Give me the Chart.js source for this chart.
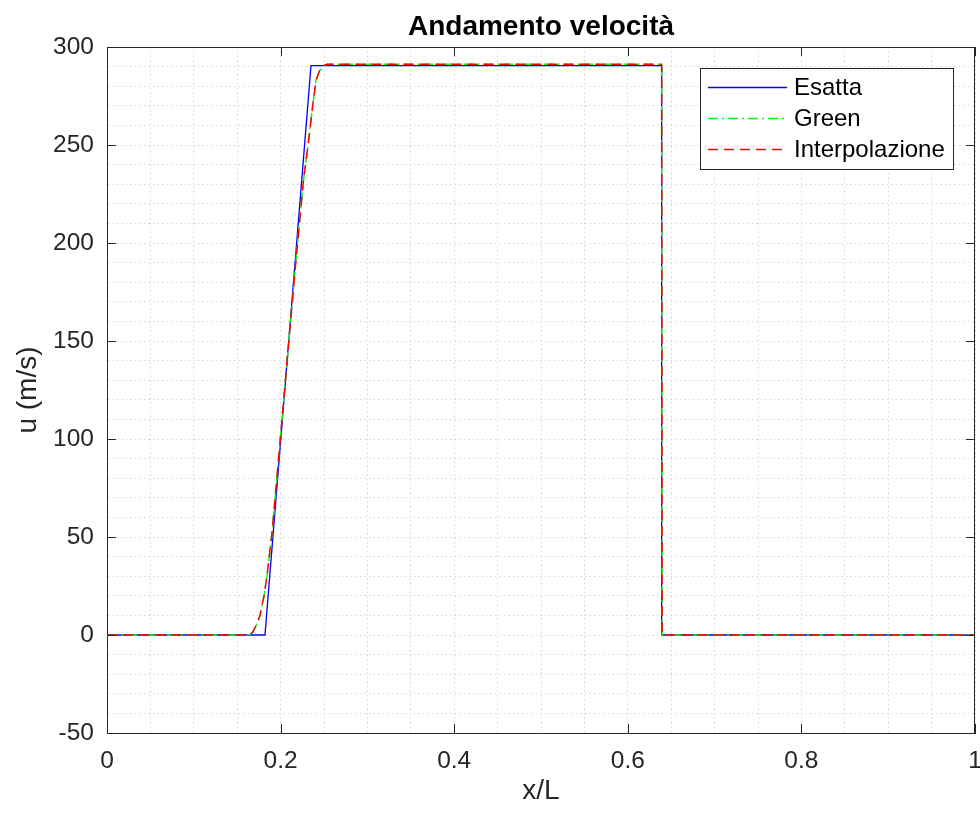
<!DOCTYPE html>
<html>
<head>
<meta charset="utf-8">
<title>Andamento velocità</title>
<script src="https://cdn.jsdelivr.net/npm/chart.js@4.4.0/dist/chart.umd.min.js"></script>
<style>
  html, body { margin: 0; padding: 0; background: #fff; }
  #wrap { width: 980px; height: 819px; }
</style>
</head>
<body>
<div id="wrap"><canvas id="chart" width="980" height="819"></canvas></div>
<script>
// values
const esattaX = [0, 0.182, 0.235, 0.639, 0.639, 1];
const esattaU = [0, 0, 290.5, 290.5, 0, 0];

const greenX = [0, 0.160, 0.165, 0.168, 0.172, 0.1763, 0.1809, 0.1843, 0.1901, 0.1935, 0.2095, 0.2175, 0.2261, 0.2316, 0.237, 0.2408, 0.245, 0.2495, 0.2535, 0.639, 0.6395, 1];
const greenU = [0, 0, 0.3, 1.5, 5, 10, 20, 30, 52, 69, 150, 190, 231, 250, 270, 283, 288, 290.5, 291.2, 291.2, 0, 0];

const interpX = [0, 0.160, 0.165, 0.168, 0.172, 0.1763, 0.1809, 0.1843, 0.1901, 0.1935, 0.2095, 0.2175, 0.2261, 0.2316, 0.237, 0.2408, 0.245, 0.2495, 0.2535, 0.639, 0.6395, 1];
const interpU = [0, 0, 0.3, 1.5, 5, 10, 20, 30, 52, 69, 150, 190, 231, 250, 270, 283, 288, 290.5, 291.2, 291.2, 0, 0];

const xTickLabels = ['0', '0.2', '0.4', '0.6', '0.8', '1'];
const xMajor = [0, 0.2, 0.4, 0.6, 0.8, 1];
const yTickLabels = ['-50', '0', '50', '100', '150', '200', '250', '300'];
const yMajor = [-50, 0, 50, 100, 150, 200, 250, 300];

const FONT = "'Liberation Sans', Arial, Helvetica, sans-serif";
const AXIS = '#262626';
const GRID = '#d6d6d6';

const pts = (xs, ys) => xs.map((x, i) => ({x: x, y: ys[i]}));

// MATLAB-like box, inward ticks and legend inside the axes
const matlabAxes = {
  id: 'matlabAxes',
  afterDraw(chart) {
    const {ctx, chartArea: a, scales} = chart;
    const xs = scales.x, ys = scales.y;
    const tl = 9;
    ctx.save();
    ctx.strokeStyle = AXIS;
    ctx.lineWidth = 1;
    ctx.beginPath();
    ctx.moveTo(a.left, a.top + 0.5); ctx.lineTo(a.right, a.top + 0.5);
    ctx.moveTo(a.right - 0.5, a.top); ctx.lineTo(a.right - 0.5, a.bottom);
    xMajor.forEach(v => {
      const px = Math.round(xs.getPixelForValue(v)) + 0.5;
      ctx.moveTo(px, a.bottom); ctx.lineTo(px, a.bottom - tl);
      ctx.moveTo(px, a.top); ctx.lineTo(px, a.top + tl);
    });
    yMajor.forEach(v => {
      const py = Math.round(ys.getPixelForValue(v)) + 0.5;
      ctx.moveTo(a.left, py); ctx.lineTo(a.left + tl, py);
      ctx.moveTo(a.right, py); ctx.lineTo(a.right - tl, py);
    });
    ctx.stroke();

    // legend
    const bx = 700.5, by = 68.5, bw = 253, bh = 101;
    ctx.fillStyle = '#fff';
    ctx.fillRect(bx, by, bw, bh);
    ctx.strokeStyle = AXIS;
    ctx.strokeRect(bx, by, bw, bh);
    ctx.font = '24px ' + FONT;
    ctx.textBaseline = 'middle';
    ctx.textAlign = 'left';
    chart.data.datasets.forEach((ds, i) => {
      const cy = 87.5 + i * 31;
      ctx.save();
      ctx.strokeStyle = ds.borderColor;
      ctx.lineWidth = ds.borderWidth;
      ctx.setLineDash(ds.borderDash || []);
      ctx.beginPath();
      ctx.moveTo(708, cy); ctx.lineTo(787, cy);
      ctx.stroke();
      ctx.restore();
      ctx.fillStyle = '#000';
      ctx.fillText(ds.label, 794, cy + 1);
    });
    ctx.restore();
  }
};

new Chart(document.getElementById('chart').getContext('2d'), {
  type: 'line',
  data: {
    datasets: [
      {
        label: 'Esatta',
        data: pts(esattaX, esattaU),
        borderColor: '#0000ff',
        borderWidth: 1.3,
        order: 2
      },
      {
        label: 'Green',
        data: pts(greenX, greenU),
        borderColor: '#00ff00',
        borderWidth: 1.5,
        borderDash: [10, 4, 2, 4],
        order: 1
      },
      {
        label: 'Interpolazione',
        data: pts(interpX, interpU),
        borderColor: '#ff0000',
        borderWidth: 1.5,
        borderDash: [10, 6],
        order: 0
      }
    ]
  },
  options: {
    responsive: false,
    animation: false,
    elements: { point: { radius: 0 }, line: { tension: 0 } },
    layout: { padding: { left: 0, right: 5, top: 0, bottom: 0 } },
    plugins: {
      legend: { display: false },
      tooltip: { enabled: false },
      title: {
        display: true,
        text: 'Andamento velocità',
        fullSize: false,
        color: '#000',
        font: { family: FONT, size: 28, weight: 'bold' },
        padding: { top: 10, bottom: 3.4 }
      }
    },
    scales: {
      x: {
        type: 'linear',
        min: 0, max: 1,
        afterFit(s) { s.height = 86; s.paddingLeft = 0; s.paddingRight = 0; },
        afterBuildTicks(s) {
          const t = [];
          for (let i = 0; i <= 20; i++) t.push({value: i / 20});
          s.ticks = t;
        },
        ticks: {
          autoSkip: false, maxRotation: 0, padding: 14, color: AXIS,
          font: { family: FONT, size: 24.5 },
          callback(v) {
            const k = xMajor.findIndex(m => Math.abs(m - v) < 1e-6);
            return k >= 0 ? xTickLabels[k] : '';
          }
        },
        grid: { color: GRID, drawTicks: false, lineWidth: 1 },
        border: { color: AXIS, width: 1, dash: [1.5, 3] },
        title: {
          display: true, text: 'x/L', color: AXIS,
          font: { family: FONT, size: 28 },
          padding: { top: 0, bottom: 11 }
        }
      },
      y: {
        type: 'linear',
        min: -50, max: 300,
        afterFit(s) { s.width = 107; s.paddingTop = 0; s.paddingBottom = 0; },
        afterBuildTicks(s) {
          const t = [];
          for (let v = -50; v <= 300; v += 10) t.push({value: v});
          s.ticks = t;
        },
        ticks: {
          autoSkip: false, padding: 13, color: AXIS,
          font: { family: FONT, size: 24.5 },
          callback(v) {
            const k = yMajor.indexOf(Math.round(v));
            return k >= 0 ? yTickLabels[k] : '';
          }
        },
        grid: { color: GRID, drawTicks: false, lineWidth: 1 },
        border: { color: AXIS, width: 1, dash: [1.5, 3] },
        title: {
          display: true, text: 'u (m/s)', color: AXIS,
          font: { family: FONT, size: 28 },
          padding: { top: 11, bottom: 0 }
        }
      }
    }
  },
  plugins: [matlabAxes]
});
</script>
</body>
</html>
